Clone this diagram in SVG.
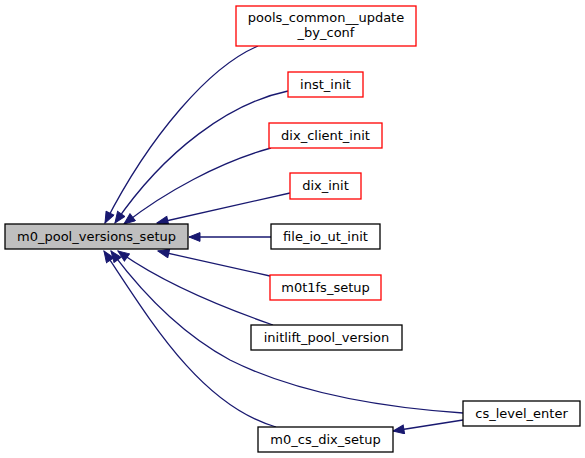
<svg xmlns="http://www.w3.org/2000/svg" width="585" height="458" viewBox="0 0 585 458">
<style>
.n rect{fill:#ffffff;stroke:#000000;stroke-width:1.3}
.n.r rect{stroke:#ff0000}
.n.m rect{fill:#bfbfbf}
text{font-family:"DejaVu Sans",sans-serif;font-size:13px;fill:#000000;text-anchor:middle}
.e path{fill:none;stroke:#191970;stroke-width:1.3;marker-end:url(#ah)}
</style>
<defs>
<marker id="ah" markerUnits="userSpaceOnUse" markerWidth="14" markerHeight="10" refX="12" refY="5" orient="auto" viewBox="0 0 14 10">
<path d="M1,0.6 L12,5 L1,9.4 Z" fill="#191970" stroke="#191970" stroke-width="1"/>
</marker>
</defs>
<g id="edges" class="e">
<path d="M258,46 C210,66 150,135 105,223"/>
<path d="M288,91 C230,103 165,150 115,223"/>
<path d="M271,148 C220,162 165,192 124,224"/>
<path d="M290,193 L157,223"/>
<path d="M271,237 L189,237"/>
<path d="M270,276 L158,251"/>
<path d="M273,325 C230,310 165,285 118,251"/>
<path d="M463,413 C390,408 300,395 230,360 C180,333 140,290 111,251"/>
<path d="M276,427 C200,405 150,320 104,251"/>
<path d="M463,420 L393,431"/>
</g>
<g id="m0_pool_versions_setup" class="n m"><rect x="5" y="224" width="183" height="25"/><text x="96.5" y="241">m0_pool_versions_setup</text></g>
<g id="pools_common__update_by_conf" class="n r"><rect x="236" y="6" width="180" height="40"/><text x="326" y="22">pools_common__update</text><text x="326" y="37">_by_conf</text></g>
<g id="inst_init" class="n r"><rect x="288" y="72" width="75" height="25"/><text x="325.5" y="89">inst_init</text></g>
<g id="dix_client_init" class="n r"><rect x="269" y="123" width="113" height="25"/><text x="325.5" y="140">dix_client_init</text></g>
<g id="dix_init" class="n r"><rect x="290" y="173" width="71" height="26"/><text x="325.5" y="190">dix_init</text></g>
<g id="file_io_ut_init" class="n"><rect x="271" y="224" width="109" height="25"/><text x="325.5" y="241">file_io_ut_init</text></g>
<g id="m0t1fs_setup" class="n r"><rect x="270" y="275" width="111" height="25"/><text x="325.5" y="292">m0t1fs_setup</text></g>
<g id="initlift_pool_version" class="n"><rect x="251" y="325" width="151" height="25"/><text x="326.5" y="342">initlift_pool_version</text></g>
<g id="cs_level_enter" class="n"><rect x="463" y="401" width="117" height="25"/><text x="521.5" y="418">cs_level_enter</text></g>
<g id="m0_cs_dix_setup" class="n"><rect x="258" y="427" width="135" height="25"/><text x="325.5" y="444">m0_cs_dix_setup</text></g>
</svg>
